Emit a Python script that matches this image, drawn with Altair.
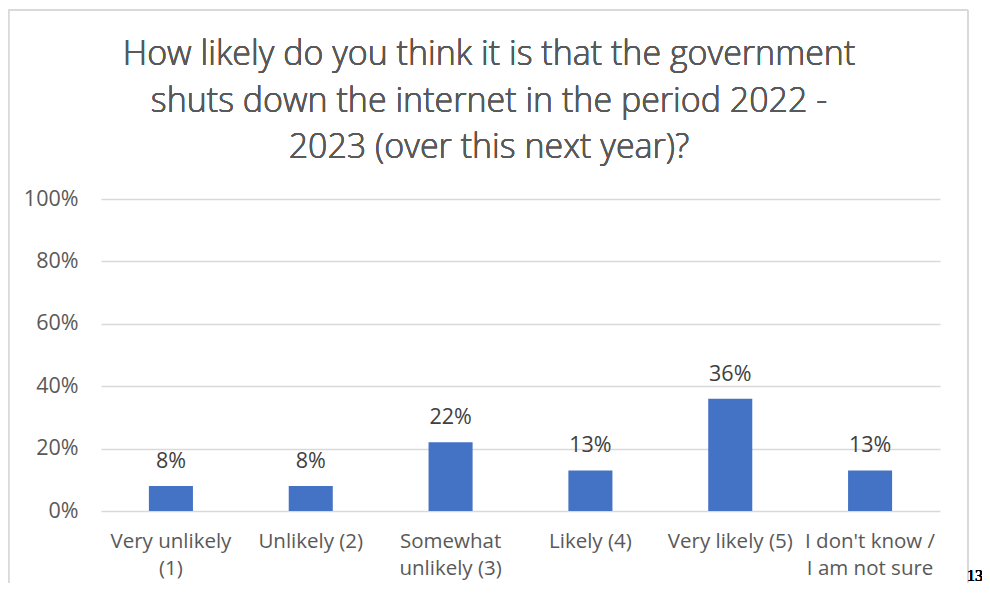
import altair as alt
import pandas as pd

categories = ["Very unlikely|(1)", "Unlikely (2)", "Somewhat|unlikely (3)", "Likely (4)",
              "Very likely (5)", "I don't know /|I am not sure"]
values = [0.08, 0.08, 0.22, 0.13, 0.36, 0.13]
labels = ["8%", "8%", "22%", "13%", "36%", "13%"]
y_ticks = [0, 0.2, 0.4, 0.6, 0.8, 1.0]
title_lines = ["How likely do you think it is that the government",
               "shuts down the internet in the period 2022 -",
               "2023 (over this next year)?"]
page_number = "13"

df = pd.DataFrame({"cat": categories, "value": values, "label": labels})

FONT = "Open Sans"
TXT = "#595959"

x = alt.X("cat:N", sort=categories, title=None,
          scale=alt.Scale(paddingInner=0.685, paddingOuter=0.3425),
          axis=alt.Axis(labelExpr="split(datum.label, '|')", labelAngle=0,
                        labelFont=FONT, labelFontSize=20.5, labelColor=TXT,
                        labelPadding=20, labelLineHeight=27, ticks=False,
                        domain=False, grid=False, labelBaseline="top"))
y = alt.Y("value:Q", title=None,
          scale=alt.Scale(domain=[0, 1]),
          axis=alt.Axis(values=y_ticks, format=".0%", labelFont=FONT,
                        labelFontSize=21.5, labelColor=TXT, labelPadding=23,
                        ticks=False, domain=False, gridColor="#d9d9d9",
                        gridWidth=1.3))

base = alt.Chart(df)
bars = base.mark_bar(color="#4472C4").encode(x=x, y=y)
text = base.mark_text(dy=-18, font=FONT, fontSize=21.5, color="#404040",
                      baseline="alphabetic").encode(x=x, y=y, text="label:N")

title_ys = [-134, -87, -41]
title_layers = [
    base.mark_text(font=FONT, fontSize=34, fontWeight=300, color=TXT,
                   baseline="alphabetic", align="center").encode(
        x=alt.value(388), y=alt.value(ty), text=alt.value(line))
    for line, ty in zip(title_lines, title_ys)
]

frame_left = base.mark_rule(color="#d9d9d9", strokeWidth=1.5).encode(
    x=alt.value(-92.5), y=alt.value(-189), y2=alt.value(400))
frame_right = base.mark_rule(color="#d9d9d9", strokeWidth=1.5).encode(
    x=alt.value(867), y=alt.value(-189), y2=alt.value(400))
frame_top = base.mark_rule(color="#d9d9d9", strokeWidth=1.5).encode(
    x=alt.value(-92.5), x2=alt.value(867), y=alt.value(-189))
pnum = base.mark_text(font="Liberation Serif", fontSize=16, color="black",
                      align="left", baseline="alphabetic").encode(
    x=alt.value(866), y=alt.value(382), text=alt.value(page_number))

chart = alt.layer(frame_left, frame_right, frame_top, bars, text, pnum,
                  *title_layers).properties(
    width=839, height=312,
    autosize=alt.AutoSizeParams(type="none"),
    padding={"left": 93, "top": 191, "right": 42, "bottom": 72},
).configure(background="white").configure_view(strokeWidth=0)

chart.save("out.html", embed_options={"renderer": "svg", "actions": False})
